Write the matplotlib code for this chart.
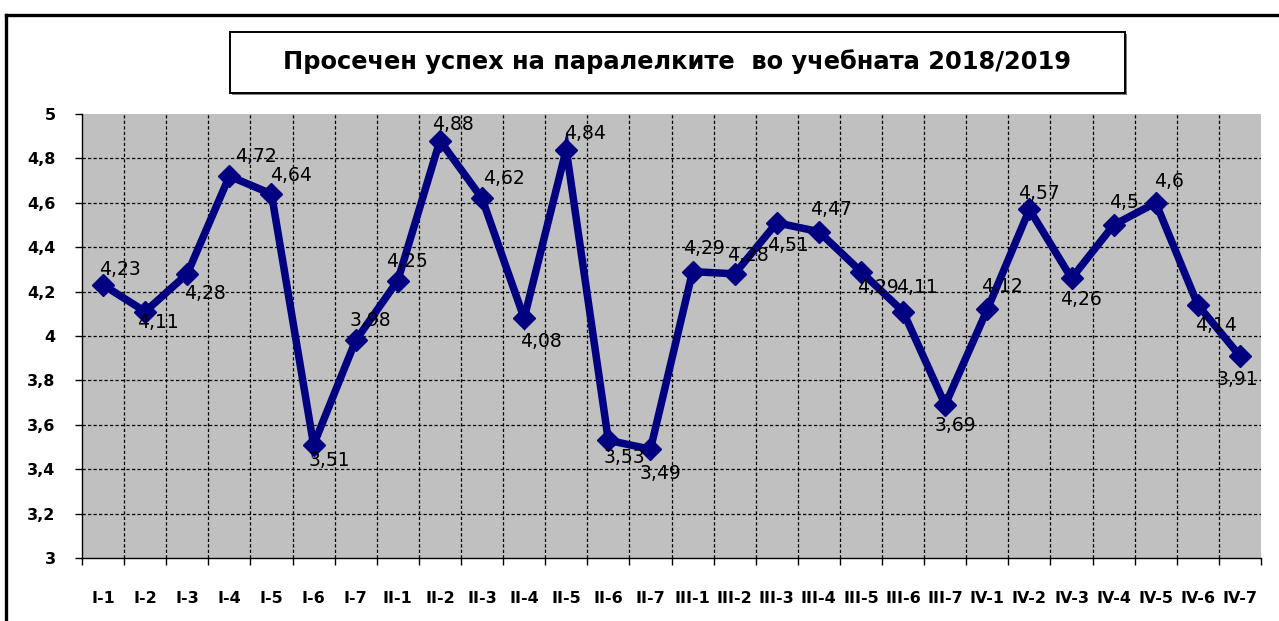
import matplotlib
matplotlib.use("Agg")
import matplotlib.pyplot as plt
from matplotlib.lines import Line2D
from matplotlib.patches import Rectangle

categories = ["I-1", "I-2", "I-3", "I-4", "I-5", "I-6", "I-7",
              "II-1", "II-2", "II-3", "II-4", "II-5", "II-6", "II-7",
              "III-1", "III-2", "III-3", "III-4", "III-5", "III-6", "III-7",
              "IV-1", "IV-2", "IV-3", "IV-4", "IV-5", "IV-6", "IV-7"]
values = [4.23, 4.11, 4.28, 4.72, 4.64, 3.51, 3.98,
          4.25, 4.88, 4.62, 4.08, 4.84, 3.53, 3.49,
          4.29, 4.28, 4.51, 4.47, 4.29, 4.11, 3.69,
          4.12, 4.57, 4.26, 4.50, 4.60, 4.14, 3.91]
y_ticks = [3, 3.2, 3.4, 3.6, 3.8, 4, 4.2, 4.4, 4.6, 4.8, 5]
title = "Просечен успех на паралелките  во учебната 2018/2019"

# label offsets in pixels (style only)
label_offsets = [(17, 15), (13, -11), (18, -20), (27, 20), (20, 18), (16, -16), (15, 20),
                 (9, 19), (13, 16), (22, 20), (17, -23), (19, 16), (16, -17), (10, -24),
                 (11, 23), (13, 18), (11, -23), (12, 22), (17, -16), (14, 24), (10, -21),
                 (15, 23), (10, 16), (9, -21), (10, 22), (13, 21), (18, -21), (-3, -24)]


def fmt(v):
    s = f"{v:.2f}".rstrip("0").rstrip(".")
    return s.replace(".", ",")


W, H = 1279, 621
fig = plt.figure(figsize=(W / 100, H / 100), dpi=100)
fig.patch.set_facecolor("white")

ax = fig.add_axes([82 / W, 1 - 558 / H, (1261 - 82) / W, (558 - 114) / H])
ax.set_facecolor("#C0C0C0")

n = len(categories)
x = list(range(n))
ax.set_xlim(-0.5, n - 0.5)
ax.set_ylim(3, 5)

# grid lines
for yv in y_ticks[1:-1]:
    ax.axhline(yv, color="black", lw=0.9, ls=(0, (2.6, 1.8)), zorder=1)
for b in range(1, n):
    ax.axvline(b - 0.5, color="black", lw=0.9, ls=(0, (2.6, 1.8)), zorder=1)

ax.plot(x, values, color="#000080", lw=5.4, marker="D", markersize=11.5,
        markerfacecolor="#000080", markeredgecolor="#000080", zorder=3,
        solid_joinstyle="miter")

for xi, v, (dx, dy) in zip(x, values, label_offsets):
    ax.annotate(fmt(v), (xi, v), xytext=(dx, dy), textcoords="offset pixels",
                ha="center", va="center", fontsize=13.5, family="DejaVu Sans",
                color="black", zorder=4)

for s in ["top", "right"]:
    ax.spines[s].set_visible(False)
ax.spines["left"].set_color("black")
ax.spines["bottom"].set_color("black")
ax.spines["left"].set_linewidth(1.0)
ax.spines["bottom"].set_linewidth(1.0)

ax.set_yticks(y_ticks)
ax.set_yticklabels([fmt(t) for t in y_ticks], fontsize=11.5, fontweight="bold",
                   family="DejaVu Sans")
ax.tick_params(axis="y", direction="out", length=5, width=1, pad=14, colors="black")

ax.set_xticks(x)
ax.set_xticklabels(categories, fontsize=11.5, fontweight="bold", family="DejaVu Sans")
ax.set_xticks([b - 0.5 for b in range(n + 1)], minor=True)
ax.tick_params(axis="x", which="major", length=0, pad=24)
ax.tick_params(axis="x", which="minor", direction="out", length=5, width=1)

# title box
fig.patches.append(Rectangle((232 / W, 1 - 95 / H), (1127 - 232) / W, (95 - 34) / H,
                             transform=fig.transFigure, facecolor="#808080",
                             edgecolor="none", zorder=1))
fig.patches.append(Rectangle((230 / W, 1 - 93 / H), (1125 - 230) / W, (93 - 32) / H,
                             transform=fig.transFigure, facecolor="white",
                             edgecolor="black", lw=1.4, zorder=2))
fig.text((230 + 1125) / 2 / W, 1 - 62 / H, title, ha="center", va="center",
         fontsize=17.4, fontweight="bold", family="DejaVu Sans", zorder=3)

# outer frame
fig.add_artist(Line2D([6 / W, 1.0], [1 - 15 / H, 1 - 15 / H], color="black", lw=2.4,
                      transform=fig.transFigure))
fig.add_artist(Line2D([6 / W, 6 / W], [1 - 15 / H, 0], color="black", lw=2.4,
                      transform=fig.transFigure))

fig.savefig("out.png", dpi=100)
